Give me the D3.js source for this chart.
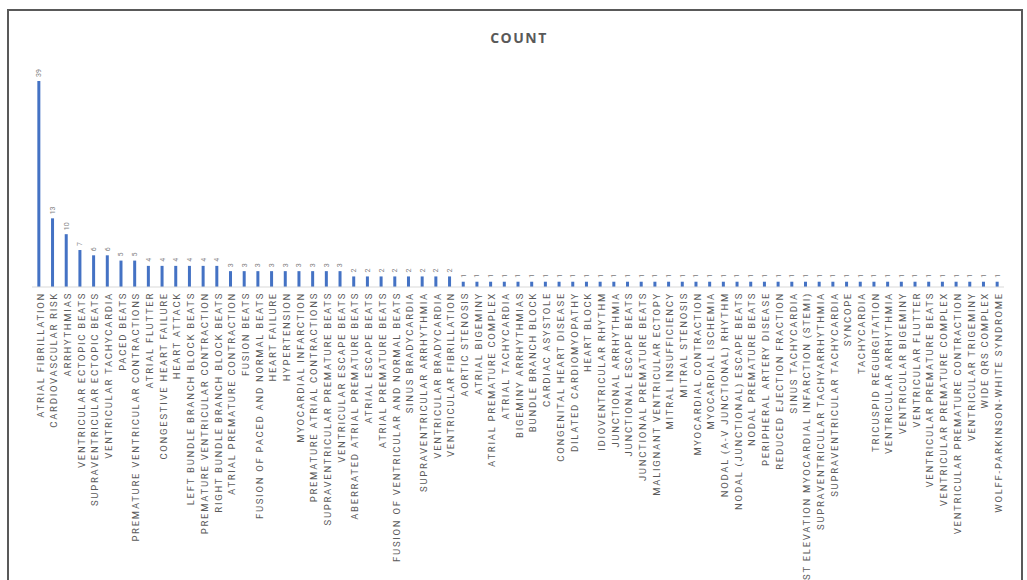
<!DOCTYPE html>
<html>
<head>
<meta charset="UTF-8">
<script src="https://d3js.org/d3.v7.min.js"></script>
<style>
  body { margin: 0; background: #fff; }
  .frame { fill: #fff; stroke: #595959; stroke-width: 2; }
  .title { font-family: "Open Sans", sans-serif; font-size: 14px; font-weight: 700; fill: #595959; letter-spacing: 1.5px; }
  .cat { font-family: Roboto, sans-serif; font-size: 9.5px; fill: #595959; letter-spacing: 1.72px; }
  .val { font-family: Roboto, sans-serif; font-size: 7px; fill: #808080; }
  .bar { fill: #4472C4; }
</style>
</head>
<body>
<svg width="1027" height="580"></svg>
<script>
// diagnosis categories, sorted by count
var categories = [
  "ATRIAL FIBRILLATION", "CARDIOVASCULAR RISK", "ARRHYTHMIAS", "VENTRICULAR ECTOPIC BEATS",
  "SUPRAVENTRICULAR ECTOPIC BEATS", "VENTRICULAR TACHYCARDIA", "PACED BEATS",
  "PREMATURE VENTRICULAR CONTRACTIONS", "ATRIAL FLUTTER", "CONGESTIVE HEART FAILURE",
  "HEART ATTACK", "LEFT BUNDLE BRANCH BLOCK BEATS", "PREMATURE VENTRICULAR CONTRACTION",
  "RIGHT BUNDLE BRANCH BLOCK BEATS", "ATRIAL PREMATURE CONTRACTION", "FUSION BEATS",
  "FUSION OF PACED AND NORMAL BEATS", "HEART FAILURE", "HYPERTENSION", "MYOCARDIAL INFARCTION",
  "PREMATURE ATRIAL CONTRACTIONS", "SUPRAVENTRICULAR PREMATURE BEATS", "VENTRICULAR ESCAPE BEATS",
  "ABERRATED ATRIAL PREMATURE BEATS", "ATRIAL ESCAPE BEATS", "ATRIAL PREMATURE BEATS",
  "FUSION OF VENTRICULAR AND NORMAL BEATS", "SINUS BRADYCARDIA", "SUPRAVENTRICULAR ARRHYTHMIA",
  "VENTRICULAR BRADYCARDIA", "VENTRICULAR FIBRILLATION", "AORTIC STENOSIS", "ATRIAL BIGEMINY",
  "ATRIAL PREMATURE COMPLEX", "ATRIAL TACHYCARDIA", "BIGEMINY ARRHYTHMIAS", "BUNDLE BRANCH BLOCK",
  "CARDIAC ASYSTOLE", "CONGENITAL HEART DISEASE", "DILATED CARDIOMYOPATHY", "HEART BLOCK",
  "IDIOVENTRICULAR RHYTHM", "JUNCTIONAL ARRHYTHMIA", "JUNCTIONAL ESCAPE BEATS",
  "JUNCTIONAL PREMATURE BEATS", "MALIGNANT VENTRICULAR ECTOPY", "MITRAL INSUFFICIENCY",
  "MITRAL STENOSIS", "MYOCARDIAL CONTRACTION", "MYOCARDIAL ISCHEMIA",
  "NODAL (A-V JUNCTIONAL) RHYTHM", "NODAL (JUNCTIONAL) ESCAPE BEATS", "NODAL PREMATURE BEATS",
  "PERIPHERAL ARTERY DISEASE", "REDUCED EJECTION FRACTION", "SINUS TACHYCARDIA",
  "ST ELEVATION MYOCARDIAL INFARCTION (STEMI)", "SUPRAVENTRICULAR TACHYARRHYTHMIA",
  "SUPRAVENTRICULAR TACHYCARDIA", "SYNCOPE", "TACHYCARDIA", "TRICUSPID REGURGITATION",
  "VENTRICULAR ARRHYTHMIA", "VENTRICULAR BIGEMINY", "VENTRICULAR FLUTTER",
  "VENTRICULAR PREMATURE BEATS", "VENTRICULAR PREMATURE COMPLEX",
  "VENTRICULAR PREMATURE CONTRACTION", "VENTRICULAR TRIGEMINY", "WIDE QRS COMPLEX",
  "WOLFF-PARKINSON-WHITE SYNDROME"
];

var counts = [
  39, 13, 10, 7, 6, 6, 5, 5, 4, 4, 4, 4, 4, 4,
  3, 3, 3, 3, 3, 3, 3, 3, 3,
  2, 2, 2, 2, 2, 2, 2, 2,
  1, 1, 1, 1, 1, 1, 1, 1, 1, 1, 1, 1, 1, 1, 1, 1, 1, 1, 1, 1, 1, 1, 1, 1, 1, 1,
  1, 1, 1, 1, 1, 1, 1, 1, 1, 1, 1, 1, 1, 1
];

var chartTitle = "COUNT";

var data = categories.map(function(c, i) { return { name: c, count: counts[i] }; });

var svg = d3.select("svg");

// outer frame (bottom edge runs off the picture)
svg.append("rect").attr("class", "frame")
   .attr("x", 8).attr("y", 10).attr("width", 1014).attr("height", 600);

svg.append("text").attr("class", "title")
   .attr("x", 519).attr("y", 43)
   .attr("text-anchor", "middle")
   .text(chartTitle);

var xScale = d3.scaleBand().domain(categories).range([32, 1004]);
var yScale = d3.scaleLinear().domain([0, 39]).range([287, 81]);

var barW = 3;

svg.selectAll(".bar")
   .data(data)
   .enter().append("rect")
   .attr("class", "bar")
   .attr("x", function(d) { return xScale(d.name) + xScale.bandwidth() / 2 - barW / 2; })
   .attr("y", function(d) { return yScale(d.count); })
   .attr("width", barW)
   .attr("height", function(d) { return yScale(0) - yScale(d.count); });

// baseline
svg.append("line")
   .attr("x1", xScale.range()[0]).attr("x2", xScale.range()[1])
   .attr("y1", yScale(0)).attr("y2", yScale(0))
   .attr("stroke", "#d9d9d9").attr("stroke-width", 1);

// value labels above bars
svg.selectAll(".val")
   .data(data)
   .enter().append("text")
   .attr("class", "val")
   .attr("transform", function(d) {
       var cx = xScale(d.name) + xScale.bandwidth() / 2;
       return "translate(" + cx + "," + (yScale(d.count) - 4) + ") rotate(-90)";
   })
   .attr("dy", "0.35em")
   .text(function(d) { return d.count; });

// category labels, rotated
svg.selectAll(".cat")
   .data(data)
   .enter().append("text")
   .attr("class", "cat")
   .attr("text-anchor", "end")
   .attr("transform", function(d) {
       var cx = xScale(d.name) + xScale.bandwidth() / 2;
       return "translate(" + cx + "," + (yScale(0) + 5) + ") rotate(-90)";
   })
   .attr("dy", "0.5em")
   .text(function(d) { return d.name; });
</script>
</body>
</html>
